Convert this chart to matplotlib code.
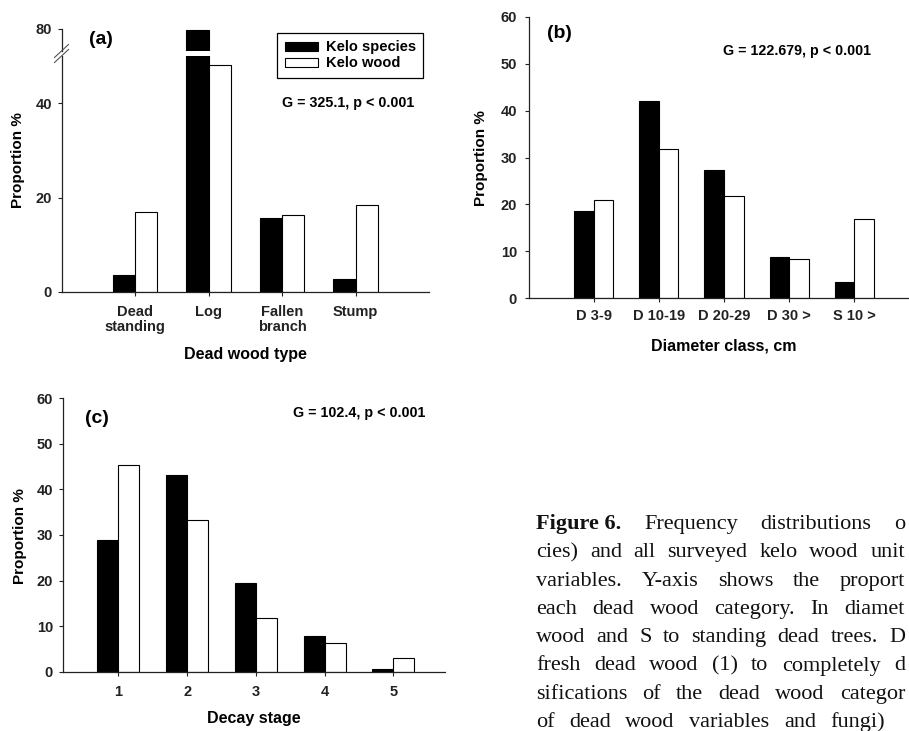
import matplotlib
matplotlib.use('Agg')
import matplotlib.pyplot as plt
import numpy as np
from matplotlib.lines import Line2D

W, H = 909, 731

# -------- data --------
a_cats = ['Dead\nstanding', 'Log', 'Fallen\nbranch', 'Stump']
a_species = [3.5, 79.7, 15.6, 2.7]
a_wood = [17.0, 48.0, 16.4, 18.5]

b_cats = ['D 3-9', 'D 10-19', 'D 20-29', 'D 30 >', 'S 10 >']
b_species = [18.6, 42.0, 27.3, 8.7, 3.5]
b_wood = [21.0, 31.9, 21.9, 8.3, 16.8]

c_cats = ['1', '2', '3', '4', '5']
c_species = [28.8, 43.2, 19.5, 7.8, 0.7]
c_wood = [45.4, 33.3, 11.7, 6.3, 2.9]

series_labels = ['Kelo species', 'Kelo wood']

caption_lines = [
    'Frequency distributions o',
    'cies) and all surveyed kelo wood unit',
    'variables. Y-axis shows the proport',
    'each dead wood category. In diamet',
    'wood and S to standing dead trees. D',
    'fresh dead wood (1) to completely d',
    'sifications of the dead wood categor',
    'of dead wood variables and fungi)',
]

plt.rcParams.update({
    'font.family': 'Liberation Sans',
    'font.weight': 'bold',
    'axes.labelweight': 'bold',
    'axes.linewidth': 0.9,
    'axes.edgecolor': '#222222',
    'xtick.color': '#222222',
    'ytick.color': '#222222',
})

fig = plt.figure(figsize=(W / 100, H / 100), dpi=100)


def px_box(l, t, r, b):
    return [l / W, 1 - b / H, (r - l) / W, (b - t) / H]


def fxy(x, y):
    return x / W, 1 - y / H


def style(ax, ypad=4, xpad=6.5):
    ax.spines[['top', 'right']].set_visible(False)
    ax.tick_params(direction='out', length=3, width=0.8, labelsize=10.5)
    ax.tick_params(axis='y', pad=ypad)
    ax.tick_params(axis='x', pad=xpad)


def draw_bars(ax, species, wood, w):
    x = np.arange(1, len(species) + 1)
    ax.bar(x - w / 2, species, w, color='black', edgecolor='black',
           linewidth=0.8, label=series_labels[0])
    ax.bar(x + w / 2, wood, w, color='white', edgecolor='black',
           linewidth=0.8, label=series_labels[1])
    return x


# -------- (a) dead wood type, broken y axis --------
ax_a = fig.add_axes(px_box(61.5, 56, 429, 292))
ax_a_top = fig.add_axes(px_box(61.5, 29, 429, 51))
for ax in (ax_a, ax_a_top):
    x = draw_bars(ax, a_species, a_wood, 0.3)
    ax.set_xlim(0, 5)
    style(ax)
ax_a.set_ylim(0, 50)
ax_a.set_yticks([0, 20, 40])
ax_a.set_xticks(x)
ax_a.set_xticklabels(a_cats, linespacing=1.1)
ax_a_top.set_ylim(80 - 22 / (236 / 50), 80)
ax_a_top.set_yticks([80])
ax_a_top.set_xticks([])
ax_a_top.spines['bottom'].set_visible(False)

# break marks on the y axis
for yc in (51, 56):
    fig.add_artist(Line2D([54.5 / W, 68.5 / W], [1 - (yc + 6.5) / H, 1 - (yc - 6.5) / H],
                          transform=fig.transFigure, color='#555555', lw=0.8))

ax_a.set_ylabel('Proportion %', fontsize=11, va='center')
ax_a.yaxis.set_label_coords(*fxy(18, 160), transform=fig.transFigure)
ax_a.set_xlabel('Dead wood type', fontsize=11.5, va='center')
ax_a.xaxis.set_label_coords(*fxy(245, 354), transform=fig.transFigure)

leg = fig.legend(*ax_a.get_legend_handles_labels(), loc='upper right',
                 bbox_to_anchor=fxy(423, 33), bbox_transform=fig.transFigure,
                 frameon=True, fancybox=False, edgecolor='black', framealpha=1,
                 borderaxespad=0, borderpad=0.5, handlelength=2.26, handleheight=0.55,
                 handletextpad=0.55, labelspacing=0.15,
                 prop={'size': 10.5, 'weight': 'bold'})
leg.get_frame().set_linewidth(0.9)

fig.text(*fxy(89, 39), '(a)', fontsize=14, va='center')
fig.text(*fxy(282, 103), 'G = 325.1, p < 0.001', fontsize=10.3, va='center')

# -------- (b) diameter class --------
ax_b = fig.add_axes(px_box(528.7, 16.7, 528.7 + 6 * 65.1, 298.3))
x = draw_bars(ax_b, b_species, b_wood, 0.3)
style(ax_b, ypad=5.5, xpad=5)
ax_b.set_xlim(0, 6)
ax_b.set_ylim(0, 60)
ax_b.set_yticks(range(0, 61, 10))
ax_b.set_xticks(x)
ax_b.set_xticklabels(b_cats)
ax_b.set_ylabel('Proportion %', fontsize=11, va='center')
ax_b.yaxis.set_label_coords(*fxy(481, 158), transform=fig.transFigure)
ax_b.set_xlabel('Diameter class, cm', fontsize=11.5, va='center')
ax_b.xaxis.set_label_coords(*fxy(724, 346), transform=fig.transFigure)
fig.text(*fxy(546.7, 33.3), '(b)', fontsize=14, va='center')
fig.text(*fxy(722.7, 50.7), 'G = 122.679, p < 0.001', fontsize=10.3, va='center')

# -------- (c) decay stage --------
ax_c = fig.add_axes(px_box(62.7, 398.3, 445, 671.7))
x = draw_bars(ax_c, c_species, c_wood, 0.305)
style(ax_c)
ax_c.set_xlim(0.19, 5.75)
ax_c.set_ylim(0, 60)
ax_c.set_yticks(range(0, 61, 10))
ax_c.set_xticks(x)
ax_c.set_xticklabels(c_cats)
ax_c.set_ylabel('Proportion %', fontsize=11, va='center')
ax_c.yaxis.set_label_coords(*fxy(20, 536), transform=fig.transFigure)
ax_c.set_xlabel('Decay stage', fontsize=11.5, va='center')
ax_c.xaxis.set_label_coords(*fxy(254, 719), transform=fig.transFigure)
fig.text(*fxy(85, 418.3), '(c)', fontsize=14, va='center')
fig.text(*fxy(293.3, 413.3), 'G = 102.4, p < 0.001', fontsize=10.3, va='center')

# -------- caption, justified between x0 and the right edge --------
renderer = fig.canvas.get_renderer()
x0 = 536
for i, line in enumerate(caption_lines):
    words = [(w, 'normal') for w in line.split()]
    if i == 0:
        words = [('Figure 6.', 'bold')] + words
    x1 = 885 if i == len(caption_lines) - 1 else 905
    ybase = 529 + i * 28.3
    texts = [fig.text(*fxy(x0, ybase), w, fontfamily='Liberation Serif', fontsize=16,
                      weight=wt, va='baseline', ha='left', color='#111111')
             for w, wt in words]
    widths = [t.get_window_extent(renderer).width for t in texts]
    gap = (x1 - x0 - sum(widths)) / (len(texts) - 1)
    xpos = x0
    for t, wd in zip(texts, widths):
        t.set_x(xpos / W)
        xpos += wd + gap

fig.savefig('out.png', dpi=100)
